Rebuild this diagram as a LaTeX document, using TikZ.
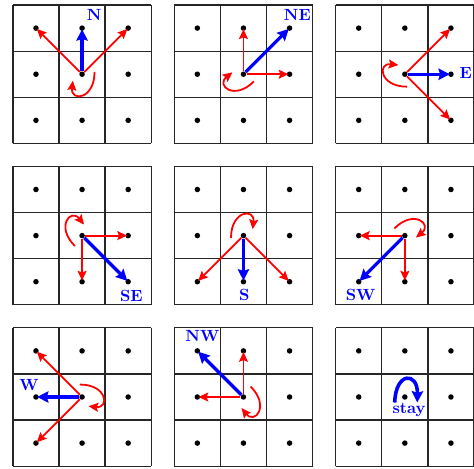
\documentclass[tikz,border=0pt]{standalone}
\usetikzlibrary{arrows.meta}
\tikzset{
  gridline/.style={line width=0.8pt, black!85},
  dotnode/.style={circle, fill=black, inner sep=0pt, minimum size=3.4pt},
  redarrow/.style={red, line width=1.1pt, -{Stealth[length=6pt,width=5.5pt,inset=1pt]}, shorten >=-1.2pt},
  bluearrow/.style={blue, line width=2pt, -{Stealth[length=7pt,width=7pt,inset=1pt]}, shorten >=-1.2pt},
  redloop/.style={red, line width=1.1pt, -{Stealth[length=6pt,width=5.5pt,inset=1pt]}},
  blueloop/.style={blue, line width=2.2pt, -{Stealth[length=7pt,width=7pt,inset=1pt]}},
  dirlabel/.style={blue, font=\bfseries, inner sep=0pt}
}
\begin{document}
\begin{tikzpicture}
\useasboundingbox (-0.28,-0.06) rectangle (10.0,10.11);
\foreach \k/\px/\py/\th/\bi/\bj/\ai/\aj/\ci/\cj/\lab/\lx/\ly in {
  1/0/7/90/1/2/0/2/2/2/N/1.76/2.78,
  2/3.5/7/45/2/2/1/2/2/1/NE/2.67/2.78,
  3/7/7/0/2/1/2/2/2/0/E/2.82/1.52,
  4/0/3.5/-45/2/0/2/1/1/0/SE/2.57/0.2,
  5/3.5/3.5/-90/1/0/0/0/2/0/S/1.52/0.22,
  6/7/3.5/-135/0/0/0/1/1/0/SW/0.54/0.22,
  7/0/0/180/0/1/0/2/0/0/W/0.35/1.77,
  8/3.5/0/135/0/2/0/1/1/2/NW/0.61/2.82}{
  \begin{scope}[shift={(\px,\py)}]
    \draw[gridline] (0,0) grid (3,3);
    \foreach \i in {0,1,2}{
      \foreach \j in {0,1,2}{
        \node[dotnode] (d\k-\i\j) at (\i+0.5,\j+0.5) {};
      }
    }
    \draw[redarrow] (d\k-11) -- (d\k-\ai\aj);
    \draw[redarrow] (d\k-11) -- (d\k-\ci\cj);
    \draw[bluearrow] (d\k-11) -- (d\k-\bi\bj);
    \node[dirlabel] (lab\k) at (\lx,\ly) {\lab};
    \begin{scope}[shift={(d\k-11.center)}, rotate=\th-90]
      \draw[redloop] (0.27,0.05) .. controls (0.27,-0.55) and (-0.25,-0.6) .. (-0.2,-0.14);
    \end{scope}
  \end{scope}
}
\begin{scope}[shift={(7,0)}]
  \draw[gridline] (0,0) grid (3,3);
  \foreach \i in {0,1,2}{
    \foreach \j in {0,1,2}{
      \node[dotnode] (d9-\i\j) at (\i+0.5,\j+0.5) {};
    }
  }
  \begin{scope}[shift={(d9-11.center)}]
    \draw[blueloop] (-0.22,-0.12) .. controls (-0.2,0.55) and (0.28,0.55) .. (0.27,-0.12);
  \end{scope}
  \node[dirlabel] (lab9) at (1.59,1.21) {stay};
\end{scope}
\end{tikzpicture}
\end{document}
